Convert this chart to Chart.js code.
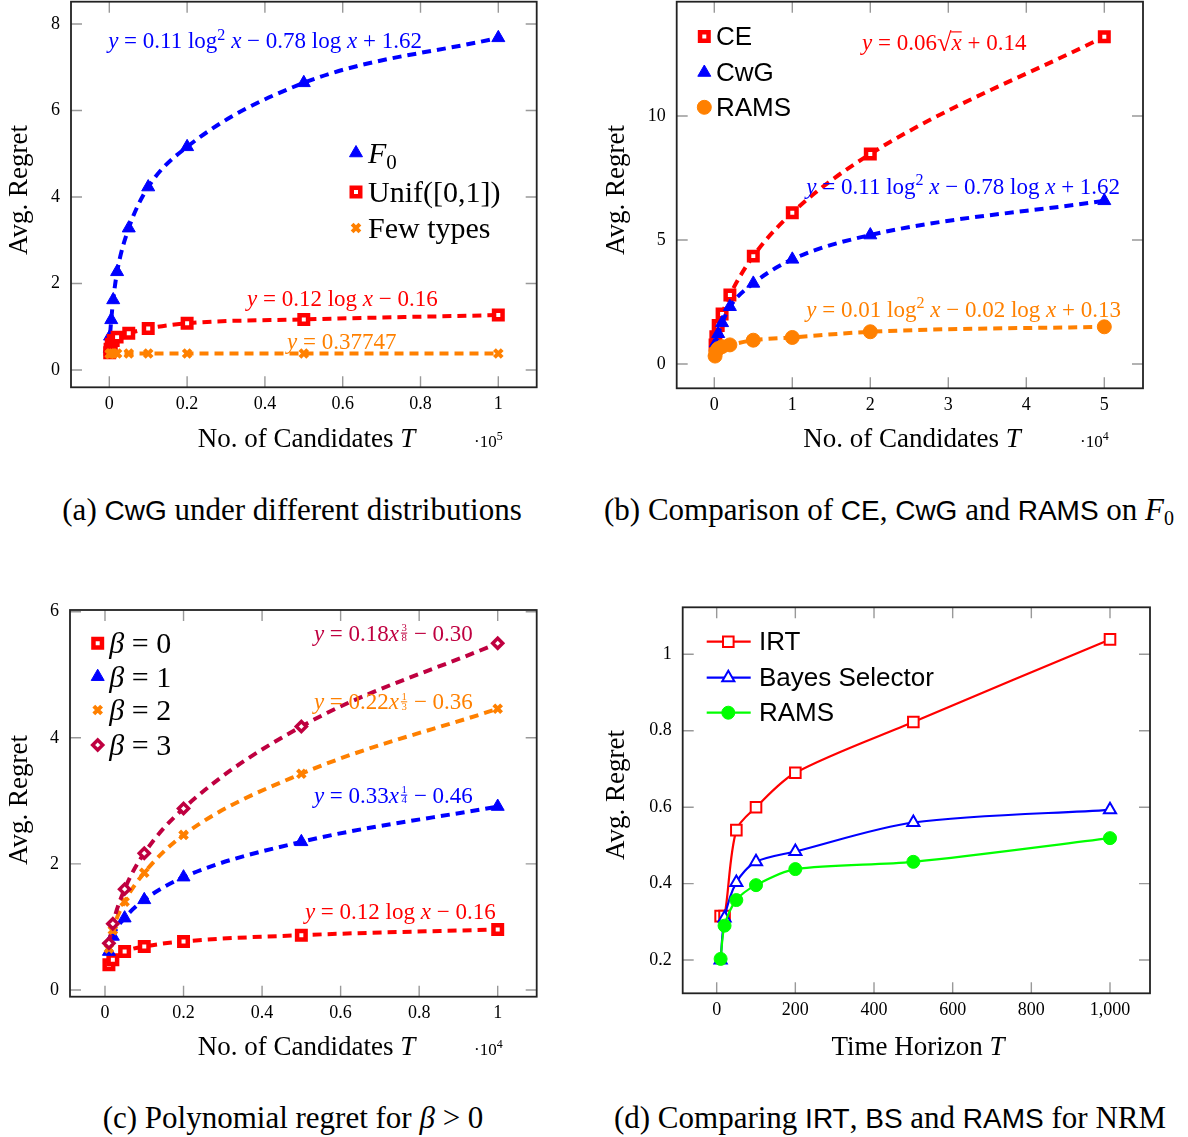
<!DOCTYPE html>
<html><head><meta charset="utf-8">
<script src="https://cdn.jsdelivr.net/npm/chart.js@4.4.1/dist/chart.umd.min.js"></script>
<style>
html,body{margin:0;padding:0;background:#fff;}
body{width:1188px;height:1137px;position:relative;overflow:hidden;}
canvas{position:absolute;}
.cap{position:absolute;font-family:'Liberation Serif',serif;font-size:31px;line-height:31px;color:#000;white-space:nowrap;transform:translateX(-50%);}
.sf{font-family:'Liberation Sans',sans-serif;font-size:28px;}
.it{font-style:italic;}
sub{font-size:20px;vertical-align:-5px;line-height:0;}
</style></head>
<body>
<canvas id="ca" width="594" height="470" style="left:0;top:0;width:594px;height:470px"></canvas>
<canvas id="cb" width="594" height="470" style="left:594px;top:0;width:594px;height:470px"></canvas>
<canvas id="cc" width="594" height="520" style="left:0;top:560px;width:594px;height:520px"></canvas>
<canvas id="cd" width="594" height="520" style="left:594px;top:560px;width:594px;height:520px"></canvas>
<div class="cap" style="left:292px;top:494px">(a) <span class="sf">CwG</span> under different distributions</div>
<div class="cap" style="left:889px;top:494px">(b) Comparison of <span class="sf">CE</span>, <span class="sf">CwG</span> and <span class="sf">RAMS</span> on <span class="it">F</span><sub>0</sub></div>
<div class="cap" style="left:293px;top:1102px">(c) Polynomial regret for <span class="it">β</span> &gt; 0</div>
<div class="cap" style="left:890px;top:1102px">(d) Comparing <span class="sf">IRT</span>, <span class="sf">BS</span> and <span class="sf">RAMS</span> for NRM</div>
<script>
// ---------------- DATA ----------------
// (a) CwG under different distributions, T in units of 1e5
const A_T    = [100, 200, 500, 1000, 2000, 5000, 10000, 20000, 50000, 100000];
const A_F0   = [0.50, 0.78, 1.16, 1.62, 2.27, 3.28, 4.23, 5.16, 6.64, 7.68];
const A_UNIF = [0.40, 0.48, 0.59, 0.68, 0.76, 0.85, 0.96, 1.08, 1.17, 1.27];
const A_FEW  = [0.37, 0.38, 0.38, 0.38, 0.38, 0.38, 0.38, 0.38, 0.38, 0.38];
const A_XTICKS = [0, 0.2, 0.4, 0.6, 0.8, 1];
const A_YTICKS = [0, 2, 4, 6, 8];
// (b) CE, CwG, RAMS on F0, T in units of 1e4
const B_T    = [100, 200, 500, 1000, 2000, 5000, 10000, 20000, 50000];
const B_CE   = [0.77, 1.10, 1.55, 2.02, 2.78, 4.35, 6.10, 8.47, 13.20];
const B_CWG  = [0.50, 0.85, 1.22, 1.66, 2.31, 3.25, 4.22, 5.20, 6.58];
const B_RAMS = [0.32, 0.50, 0.62, 0.70, 0.77, 0.96, 1.07, 1.30, 1.50];
const B_XTICKS = [0, 1, 2, 3, 4, 5];
const B_YTICKS = [0, 5, 10];
// (c) Polynomial regret, T in units of 1e4
const C_T  = [100, 200, 500, 1000, 2000, 5000, 10000];
const C_B0 = [0.40, 0.48, 0.61, 0.69, 0.77, 0.87, 0.96];
const C_B1 = [0.61, 0.85, 1.14, 1.43, 1.79, 2.35, 2.91];
const C_B2 = [0.66, 0.95, 1.40, 1.86, 2.46, 3.43, 4.46];
const C_B3 = [0.74, 1.05, 1.60, 2.17, 2.88, 4.18, 5.50];
const C_XTICKS = [0, 0.2, 0.4, 0.6, 0.8, 1];
const C_YTICKS = [0, 2, 4, 6];
// (d) IRT, BS, RAMS for NRM
const D_T    = [10, 20, 50, 100, 200, 500, 1000];
const D_IRT  = [0.315, 0.315, 0.54, 0.60, 0.69, 0.823, 1.039];
const D_BS   = [0.200, 0.310, 0.403, 0.457, 0.484, 0.560, 0.593];
const D_RAMS = [0.203, 0.290, 0.357, 0.396, 0.438, 0.457, 0.519];
const D_XTICKS = [0, 200, 400, 600, 800, 1000];
const D_YTICKS = [0.2, 0.4, 0.6, 0.8, 1];

// ---------------- STYLE ----------------
const SERIF = "'Liberation Serif', serif";
const SANS = "'Liberation Sans', sans-serif";
const TICK_SIZE = 18;
const RED = '#ff0000', BLUE = '#0000ff', ORANGE = '#ff8000', PURPLE = '#bf0040', GREEN = '#00ff00';
const ST = {
  blueTri:   {pointStyle:'triangle', radius:7.5, borderWidth:1, borderColor:BLUE, fill:BLUE},
  redSq:     {pointStyle:'rect', radius:6, borderWidth:4.5, borderColor:RED, fill:'#ffffff'},
  orangeX:   {pointStyle:'crossRot', radius:5.5, borderWidth:4, borderColor:ORANGE, fill:ORANGE},
  orangeDot: {pointStyle:'circle', radius:7, borderWidth:1, borderColor:ORANGE, fill:ORANGE},
  purpleDia: {pointStyle:'rectRot', radius:5, borderWidth:3.5, borderColor:PURPLE, fill:'#ffffff'},
  dRedSq:    {pointStyle:'rect', radius:7.5, borderWidth:2, borderColor:RED, fill:'#ffffff'},
  dBlueTri:  {pointStyle:'triangle', radius:7, borderWidth:2, borderColor:BLUE, fill:'#ffffff'},
  dGreenDot: {pointStyle:'circle', radius:6.5, borderWidth:1, borderColor:GREEN, fill:GREEN}
};

function ds(xs, ys, div, color, st, order, dashed) {
  return {
    data: xs.map((t, i) => ({x: t / div, y: ys[i]})),
    borderColor: color, borderWidth: dashed ? 4 : 2.2, borderDash: dashed ? [9, 6] : [],
    fill: false, tension: dashed ? 0.4 : 0.3,
    cubicInterpolationMode: dashed ? 'monotone' : 'default',
    pointStyle: st.pointStyle, pointRadius: st.radius, pointBorderWidth: st.borderWidth,
    pointBorderColor: st.borderColor, pointBackgroundColor: st.fill,
    order: order, clip: 8
  };
}

// ---------------- RICH TEXT ----------------
function runFont(r, size, fam) {
  let sz = size * (r.scale || 1);
  if (r.sup || r.sub) sz = size * 0.7;
  return `${r.i ? 'italic ' : ''}${sz}px ${r.sans ? SANS : fam}`;
}
function runWidth(ctx, r, size, fam) {
  if (r.gap) return r.gap * size;
  if (r.frac) {
    ctx.font = `${size * 0.47}px ${fam}`;
    return Math.max(ctx.measureText(r.frac[0]).width, ctx.measureText(r.frac[1]).width) + size * 0.16;
  }
  ctx.font = runFont(r, size, fam);
  return ctx.measureText(r.t).width;
}
function drawRich(ctx, runs, x, cy, o) {
  const size = o.size, fam = o.fam || SERIF;
  ctx.save();
  ctx.fillStyle = o.color || '#000';
  ctx.textBaseline = 'alphabetic'; ctx.textAlign = 'left';
  const ws = runs.map(r => runWidth(ctx, r, size, fam));
  const total = ws.reduce((a, b) => a + b, 0);
  let cx = o.align === 'center' ? x - total / 2 : (o.align === 'right' ? x - total : x);
  const base = cy + size * 0.33;
  runs.forEach((r, k) => {
    if (r.frac) {
      const fs = size * 0.47; ctx.font = `${fs}px ${fam}`;
      const w = ws[k], mid = cx + w / 2 + size * 0.03;
      ctx.textAlign = 'center';
      ctx.fillText(r.frac[0], mid, base - size * 0.43);
      ctx.fillText(r.frac[1], mid, base + size * 0.02);
      ctx.fillRect(cx + size * 0.08, base - size * 0.355, w - size * 0.12, Math.max(1, size * 0.045));
      ctx.textAlign = 'left';
    } else if (!r.gap) {
      ctx.font = runFont(r, size, fam);
      let yy = base;
      if (r.sup) yy -= size * 0.38;
      if (r.sub) yy += size * 0.2;
      if (r.dy) yy += r.dy * size;
      ctx.fillText(r.t, cx, yy);
      if (r.over) ctx.fillRect(cx - 1, base - size * 0.8, ws[k] + 1, Math.max(1, size * 0.05));
    }
    cx += ws[k];
  });
  ctx.restore();
}

function drawMarker(ctx, st, x, y) {
  ctx.save();
  ctx.fillStyle = st.fill; ctx.strokeStyle = st.borderColor; ctx.lineWidth = st.borderWidth;
  Chart.helpers.drawPoint(ctx, {pointStyle: st.pointStyle, radius: st.radius, rotation: 0, borderWidth: st.borderWidth}, x, y);
  ctx.restore();
}

// ---------------- PANEL PLUGIN ----------------
function panelPlugin(p) {
  return {
    id: 'deco_' + p.id,
    beforeDatasetsDraw(chart) {
      const {ctx, chartArea: a, scales: {x, y}} = chart;
      const TL = 11;
      ctx.save();
      ctx.strokeStyle = '#999999'; ctx.lineWidth = 1.4;
      ctx.beginPath();
      p.xticks.forEach(v => {
        const px = x.getPixelForValue(v);
        ctx.moveTo(px, a.bottom); ctx.lineTo(px, a.bottom - TL);
        ctx.moveTo(px, a.top); ctx.lineTo(px, a.top + TL);
      });
      p.yticks.forEach(v => {
        const py = y.getPixelForValue(v);
        ctx.moveTo(a.left, py); ctx.lineTo(a.left + TL, py);
        ctx.moveTo(a.right, py); ctx.lineTo(a.right - TL, py);
      });
      ctx.stroke();
      ctx.restore();
    },
    afterDraw(chart) {
      const {ctx, chartArea: a, scales: {x, y}} = chart;
      ctx.save();
      ctx.strokeStyle = '#222222'; ctx.lineWidth = 1.8;
      ctx.strokeRect(a.left, a.top, a.right - a.left, a.bottom - a.top);
      ctx.restore();
      // axis titles
      ctx.save();
      ctx.translate(p.ylab[0], p.ylab[1]); ctx.rotate(-Math.PI / 2);
      drawRich(ctx, [{t: 'Avg. Regret'}], 0, 0, {size: 27, align: 'center'});
      ctx.restore();
      drawRich(ctx, p.xlabRuns, p.xlab[0], p.xlab[1], {size: 27, align: 'center'});
      if (p.mult) drawRich(ctx, p.mult.runs, p.mult.x, p.mult.y, {size: 17, align: 'left'});
      // legend
      const L = p.legend;
      L.items.forEach((it, k) => {
        const yy = L.rows[k];
        if (L.line) {
          ctx.save(); ctx.strokeStyle = it.st.borderColor; ctx.lineWidth = 2.2;
          ctx.beginPath(); ctx.moveTo(L.line[0], yy); ctx.lineTo(L.line[1], yy); ctx.stroke(); ctx.restore();
        }
        drawMarker(ctx, it.st, L.mx, yy);
        drawRich(ctx, it.runs, L.tx, yy, {size: L.size, fam: L.fam, align: 'left'});
      });
      // annotations
      p.notes.forEach(n => {
        drawRich(ctx, n.runs, x.getPixelForValue(n.x), y.getPixelForValue(n.y), {size: n.size || 23, color: n.color, align: 'left'});
      });
    }
  };
}

function makePanel(p) {
  const base = (min, max, ticks, fmt, pad) => ({
    type: 'linear', min: min, max: max,
    grid: {display: false, drawTicks: false}, border: {display: false},
    ticks: {autoSkip: false, maxRotation: 0, minRotation: 0, padding: pad, color: '#000',
            font: {family: SERIF, size: TICK_SIZE}, callback: (v) => fmt(v)},
    afterBuildTicks: (s) => { s.ticks = ticks.map(v => ({value: v})); }
  });
  const xs = base(p.xmin, p.xmax, p.xticks, p.xfmt, 6);
  xs.afterFit = (s) => { s.height = p.H - p.B; s.paddingLeft = 0; s.paddingRight = 0; s.paddingTop = 0; s.paddingBottom = 0; };
  const ys = base(p.ymin, p.ymax, p.yticks, p.yfmt, 11);
  ys.afterFit = (s) => { s.width = p.L; s.paddingLeft = 0; s.paddingRight = 0; s.paddingTop = 0; s.paddingBottom = 0; };
  new Chart(document.getElementById(p.id), {
    type: 'line',
    data: {datasets: p.datasets},
    options: {
      responsive: false, animation: false, events: [],
      layout: {autoPadding: false, padding: {top: p.T, right: p.W - p.R, left: 0, bottom: 0}},
      plugins: {legend: {display: false}, tooltip: {enabled: false}},
      scales: {x: xs, y: ys}
    },
    plugins: [panelPlugin(p)]
  });
}

const num = v => String(v);
const logRuns = (a, b) => [{t: 'y', i: 1}, {t: ' = ' + a + ' log '}, {t: 'x', i: 1}, {t: ' − ' + b}];
const candRuns = [{t: 'No. of Candidates '}, {t: 'T', i: 1}];

// (a)
makePanel({
  id: 'ca', W: 594, H: 470, L: 71, T: 1.7, R: 536.7, B: 387.3,
  xmin: -0.0985, xmax: 1.0987, ymin: -0.40, ymax: 8.516,
  xticks: A_XTICKS, yticks: A_YTICKS, xfmt: num, yfmt: num,
  datasets: [
    ds(A_T, A_F0, 1e5, BLUE, ST.blueTri, 3, true),
    ds(A_T, A_UNIF, 1e5, RED, ST.redSq, 2, true),
    ds(A_T, A_FEW, 1e5, ORANGE, ST.orangeX, 1, true)
  ],
  ylab: [18, 190], xlab: [306.5, 438], xlabRuns: candRuns,
  mult: {x: 474, y: 441, runs: [{t: '·10'}, {t: '5', sup: 1}]},
  legend: {mx: 356, tx: 368, rows: [153, 192, 228], size: 30, fam: SERIF, items: [
    {st: ST.blueTri, runs: [{t: 'F', i: 1}, {t: '0', sub: 1}]},
    {st: ST.redSq, runs: [{t: 'Unif([0,1])'}]},
    {st: ST.orangeX, runs: [{t: 'Few types'}]}
  ]},
  notes: [
    {x: -0.003, y: 7.61, color: BLUE, runs: [{t: 'y', i: 1}, {t: ' = 0.11 log'}, {t: '2', sup: 1}, {t: ' '}, {t: 'x', i: 1}, {t: ' − 0.78 log '}, {t: 'x', i: 1}, {t: ' + 1.62'}]},
    {x: 0.354, y: 1.665, color: RED, runs: [{t: 'y', i: 1}, {t: ' = 0.12 log '}, {t: 'x', i: 1}, {t: ' − 0.16'}]},
    {x: 0.457, y: 0.67, color: ORANGE, runs: [{t: 'y', i: 1}, {t: ' = 0.37747'}]}
  ]
});

// (b)
makePanel({
  id: 'cb', W: 594, H: 470, L: 82.7, T: 1.7, R: 549, B: 388.3,
  xmin: -0.482, xmax: 5.496, ymin: -0.98, ymax: 14.61,
  xticks: B_XTICKS, yticks: B_YTICKS, xfmt: num, yfmt: num,
  datasets: [
    ds(B_T, B_CE, 1e4, RED, ST.redSq, 3, true),
    ds(B_T, B_CWG, 1e4, BLUE, ST.blueTri, 2, true),
    ds(B_T, B_RAMS, 1e4, ORANGE, ST.orangeDot, 1, true)
  ],
  ylab: [21, 190], xlab: [318, 438], xlabRuns: candRuns,
  mult: {x: 486, y: 441, runs: [{t: '·10'}, {t: '4', sup: 1}]},
  legend: {mx: 110.3, tx: 122, rows: [36.5, 72.5, 107.3], size: 26, fam: SANS, items: [
    {st: ST.redSq, runs: [{t: 'CE'}]},
    {st: ST.blueTri, runs: [{t: 'CwG'}]},
    {st: ST.orangeDot, runs: [{t: 'RAMS'}]}
  ]},
  notes: [
    {x: 1.894, y: 12.98, color: RED, runs: [{t: 'y', i: 1}, {t: ' = 0.06'}, {t: '√', scale: 1.15, dy: 0.06}, {t: 'x', i: 1, over: 1}, {t: ' + 0.14'}]},
    {x: 1.18, y: 7.18, color: BLUE, runs: [{t: 'y', i: 1}, {t: ' = 0.11 log'}, {t: '2', sup: 1}, {t: ' '}, {t: 'x', i: 1}, {t: ' − 0.78 log '}, {t: 'x', i: 1}, {t: ' + 1.62'}]},
    {x: 1.18, y: 2.22, color: ORANGE, runs: [{t: 'y', i: 1}, {t: ' = 0.01 log'}, {t: '2', sup: 1}, {t: ' '}, {t: 'x', i: 1}, {t: ' − 0.02 log '}, {t: 'x', i: 1}, {t: ' + 0.13'}]}
  ]
});

// (c)
makePanel({
  id: 'cc', W: 594, H: 520, L: 70, T: 50, R: 536.7, B: 436.7,
  xmin: -0.0891, xmax: 1.0993, ymin: -0.106, ymax: 6.027,
  xticks: C_XTICKS, yticks: C_YTICKS, xfmt: num, yfmt: num,
  datasets: [
    ds(C_T, C_B0, 1e4, RED, ST.redSq, 4, true),
    ds(C_T, C_B1, 1e4, BLUE, ST.blueTri, 3, true),
    ds(C_T, C_B2, 1e4, ORANGE, ST.orangeX, 2, true),
    ds(C_T, C_B3, 1e4, PURPLE, ST.purpleDia, 1, true)
  ],
  ylab: [18, 240], xlab: [306.5, 486], xlabRuns: candRuns,
  mult: {x: 474, y: 489, runs: [{t: '·10'}, {t: '4', sup: 1}]},
  legend: {mx: 97.7, tx: 109.3, rows: [83.3, 116.7, 150, 185], size: 30, fam: SERIF, items: [
    {st: ST.redSq, runs: [{t: 'β', i: 1}, {t: ' = 0'}]},
    {st: ST.blueTri, runs: [{t: 'β', i: 1}, {t: ' = 1'}]},
    {st: ST.orangeX, runs: [{t: 'β', i: 1}, {t: ' = 2'}]},
    {st: ST.purpleDia, runs: [{t: 'β', i: 1}, {t: ' = 3'}]}
  ]},
  notes: [
    {x: 0.532, y: 5.66, color: PURPLE, runs: [{t: 'y', i: 1}, {t: ' = 0.18'}, {t: 'x', i: 1}, {frac: ['3', '8']}, {t: ' − 0.30'}]},
    {x: 0.532, y: 4.57, color: ORANGE, runs: [{t: 'y', i: 1}, {t: ' = 0.22'}, {t: 'x', i: 1}, {frac: ['1', '3']}, {t: ' − 0.36'}]},
    {x: 0.532, y: 3.09, color: BLUE, runs: [{t: 'y', i: 1}, {t: ' = 0.33'}, {t: 'x', i: 1}, {frac: ['1', '4']}, {t: ' − 0.46'}]},
    {x: 0.509, y: 1.25, color: RED, runs: logRuns('0.12', '0.16')}
  ]
});

// (d)
makePanel({
  id: 'cd', W: 594, H: 520, L: 88.7, T: 47.3, R: 556, B: 433.3,
  xmin: -86.4, xmax: 1101.7, ymin: 0.113, ymax: 1.123,
  xticks: D_XTICKS, yticks: D_YTICKS, xfmt: v => v.toLocaleString('en-US'), yfmt: num,
  datasets: [
    ds(D_T, D_IRT, 1, RED, ST.dRedSq, 3, false),
    ds(D_T, D_BS, 1, BLUE, ST.dBlueTri, 2, false),
    ds(D_T, D_RAMS, 1, GREEN, ST.dGreenDot, 1, false)
  ],
  ylab: [21, 235], xlab: [324, 486], xlabRuns: [{t: 'Time Horizon '}, {t: 'T', i: 1}],
  mult: null,
  legend: {mx: 134.3, tx: 165, line: [112.7, 156.7], rows: [81.7, 117.7, 152.7], size: 26, fam: SANS, items: [
    {st: ST.dRedSq, runs: [{t: 'IRT'}]},
    {st: ST.dBlueTri, runs: [{t: 'Bayes Selector'}]},
    {st: ST.dGreenDot, runs: [{t: 'RAMS'}]}
  ]},
  notes: []
});
</script>
</body></html>
